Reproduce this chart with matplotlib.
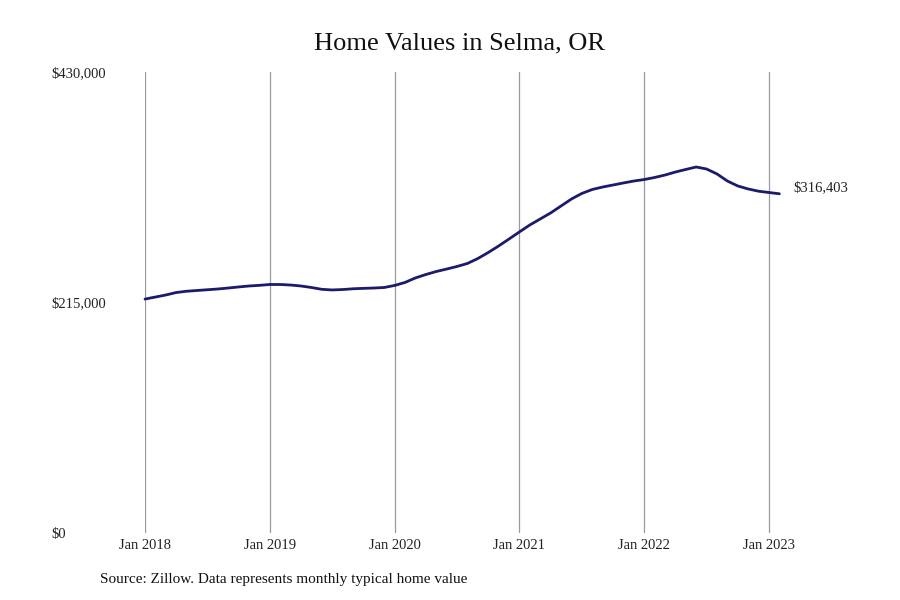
import matplotlib
matplotlib.use("Agg")
import matplotlib.pyplot as plt

SERIF = ['Liberation Serif', 'DejaVu Serif']

values = [218200, 220100, 222000, 224300, 225500, 226200, 226900, 227600, 228500, 229500,
          230400, 231000, 231800, 231800, 231300, 230400, 229000, 227300, 226700, 227100,
          227800, 228200, 228500, 229000, 230900, 233700, 237900, 241100, 243900, 246200,
          248600, 251400, 256000, 261600, 267700, 274200, 280800, 287300, 292900, 298500,
          305000, 311500, 316700, 320400, 322700, 324600, 326500, 328300, 329700, 331600,
          333900, 336700, 339100, 341400, 339500, 334900, 328300, 323700, 320900, 318800,
          317600, 316403]
months = list(range(len(values)))
year_ticks = [0, 12, 24, 36, 48, 60]
year_labels = ['Jan 2018', 'Jan 2019', 'Jan 2020', 'Jan 2021', 'Jan 2022', 'Jan 2023']
y_ticks = [0, 215000, 430000]
y_labels = ['$0', '$215,000', '$430,000']
end_label = '$316,403'

fig = plt.figure(figsize=(9, 6), dpi=100)
ax = fig.add_axes([145/900, 67/600, (779.4-145)/900, 461/600])
ax.set_xlim(0, 61)
ax.set_ylim(0, 430000)
for s in ax.spines.values():
    s.set_visible(False)
for x in year_ticks:
    ax.axvline(x, color='#9a9a9a', lw=0.9, zorder=1)
ax.plot(months, values, color='#1b1a6b', lw=2.0, solid_capstyle='round', zorder=3, clip_on=False)
ax.set_xticks(year_ticks)
ax.set_xticklabels(year_labels, family=SERIF, fontsize=10.5, color='#222222')
ax.set_yticks(y_ticks)
ax.set_yticklabels(y_labels, family=SERIF, fontsize=10.5, color='#222222', ha='left')
ax.tick_params(axis='y', length=0, pad=67.5)
ax.tick_params(axis='x', length=0, pad=4)
ax.text(months[-1] + 1.3, values[-1], end_label, family=SERIF,
        fontsize=10.5, color='#222222', va='bottom', ha='left')
fig.text(460/900, 1 - 43/600, 'Home Values in Selma, OR', family=SERIF,
         fontsize=19, ha='center', va='center', color='#111111')
fig.text(100/900, 1 - 580/600, 'Source: Zillow. Data represents monthly typical home value',
         family=SERIF, fontsize=11, ha='left', va='center', color='#111111')
fig.savefig('out.png', dpi=100)
